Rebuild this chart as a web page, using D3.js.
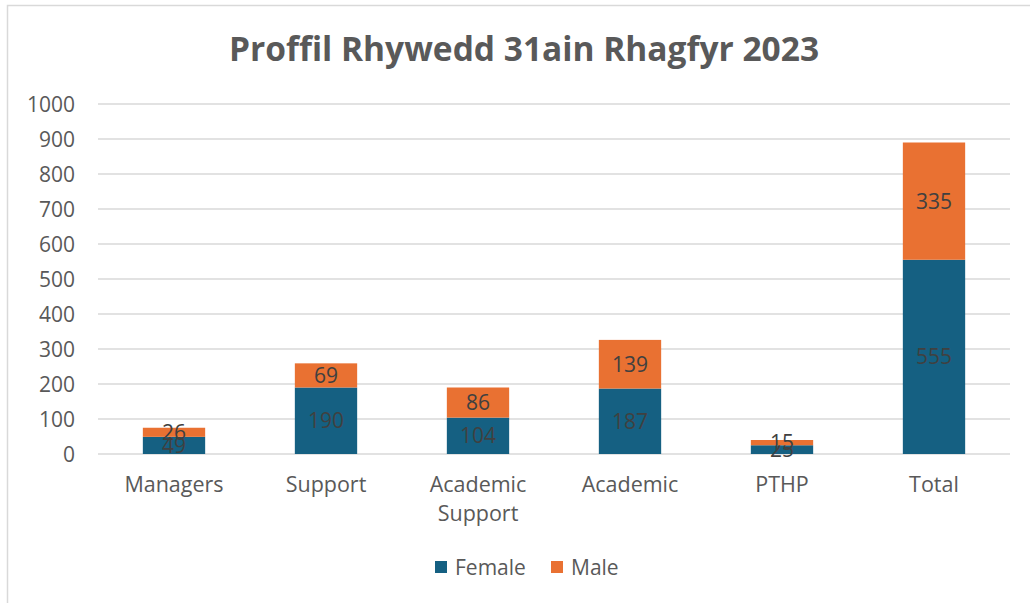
<!DOCTYPE html>
<html>
<head>
<meta charset="utf-8">
<script src="https://cdn.jsdelivr.net/npm/d3@7"></script>
<style>
  body { margin: 0; background: #fff; }
  text { font-family: "Open Sans", "Noto Sans", sans-serif; }
</style>
</head>
<body>
<script>
// data
var categories = [["Managers"], ["Support"], ["Academic", "Support"], ["Academic"], ["PTHP"], ["Total"]];
var female = [49, 190, 104, 187, 25, 555];
var male = [26, 69, 86, 139, 15, 335];
var yTicks = [0, 100, 200, 300, 400, 500, 600, 700, 800, 900, 1000];

var W = 1030, H = 603;
var svg = d3.select("body").append("svg").attr("width", W).attr("height", H);

// chart frame (cut by the window on right/bottom)
svg.append("path")
  .attr("d", "M7.5," + H + "V5.5H" + W)
  .attr("fill", "none").attr("stroke", "#d9d9d9").attr("stroke-width", 1.5);

var x = d3.scaleBand().domain(d3.range(categories.length)).range([98, 1010]).paddingInner(0.59).paddingOuter(0.295);
var y = d3.scaleLinear().domain([0, 1000]).range([454, 104]);

// gridlines
svg.append("g").selectAll("line").data(yTicks).join("line")
  .attr("x1", 98).attr("x2", 1010)
  .attr("y1", function (d) { return y(d); }).attr("y2", function (d) { return y(d); })
  .attr("stroke", "#d9d9d9").attr("stroke-width", 1.5);

// y tick labels
svg.append("g").selectAll("text").data(yTicks).join("text")
  .attr("x", 75).attr("y", function (d) { return y(d); })
  .attr("dy", "0.36em").attr("text-anchor", "end")
  .attr("font-size", 21).attr("fill", "#595959")
  .text(function (d) { return d; });

// stacked bars
var rows = categories.map(function (c, i) { return { i: i, female: female[i], male: male[i] }; });
var stack = d3.stack().keys(["female", "male"])(rows);
var colors = { female: "#156082", male: "#e97132" };

var layers = svg.append("g").selectAll("g").data(stack).join("g")
  .attr("fill", function (d) { return colors[d.key]; });

layers.selectAll("rect").data(function (d) { return d; }).join("rect")
  .attr("x", function (d) { return x(d.data.i); })
  .attr("width", x.bandwidth())
  .attr("y", function (d) { return y(d[1]); })
  .attr("height", function (d) { return y(d[0]) - y(d[1]); });

// data labels
layers.selectAll("text").data(function (d) { return d; }).join("text")
  .attr("x", function (d) { return x(d.data.i) + x.bandwidth() / 2; })
  .attr("y", function (d) { return y((d[0] + d[1]) / 2); })
  .attr("dy", "0.36em").attr("text-anchor", "middle")
  .attr("font-size", 21).attr("fill", "#404040")
  .text(function (d) { return d[1] - d[0]; });

// category labels
svg.append("g").selectAll("text").data(categories).join("text")
  .attr("x", function (d, i) { return x(i) + x.bandwidth() / 2; })
  .attr("y", 492).attr("text-anchor", "middle")
  .attr("font-size", 21.5).attr("fill", "#595959")
  .selectAll("tspan").data(function (d) { return d; }).join("tspan")
  .attr("x", function () { return d3.select(this.parentNode).attr("x"); })
  .attr("dy", function (d, j) { return j === 0 ? 0 : 29; })
  .text(function (d) { return d; });

// title
svg.append("text")
  .attr("x", 524).attr("y", 61).attr("text-anchor", "middle")
  .attr("font-size", 33.5).attr("font-weight", "bold").attr("fill", "#595959")
  .text("Proffil Rhywedd 31ain Rhagfyr 2023");

// legend
var legend = [{ key: "female", label: "Female", x: 435 }, { key: "male", label: "Male", x: 551 }];
var lg = svg.append("g").selectAll("g").data(legend).join("g")
  .attr("transform", function (d) { return "translate(" + d.x + ",567)"; });
lg.append("rect").attr("x", 0).attr("y", -6).attr("width", 12).attr("height", 12)
  .attr("fill", function (d) { return colors[d.key]; });
lg.append("text").attr("x", 20).attr("dy", "0.36em")
  .attr("font-size", 21).attr("fill", "#595959")
  .text(function (d) { return d.label; });
</script>
</body>
</html>
